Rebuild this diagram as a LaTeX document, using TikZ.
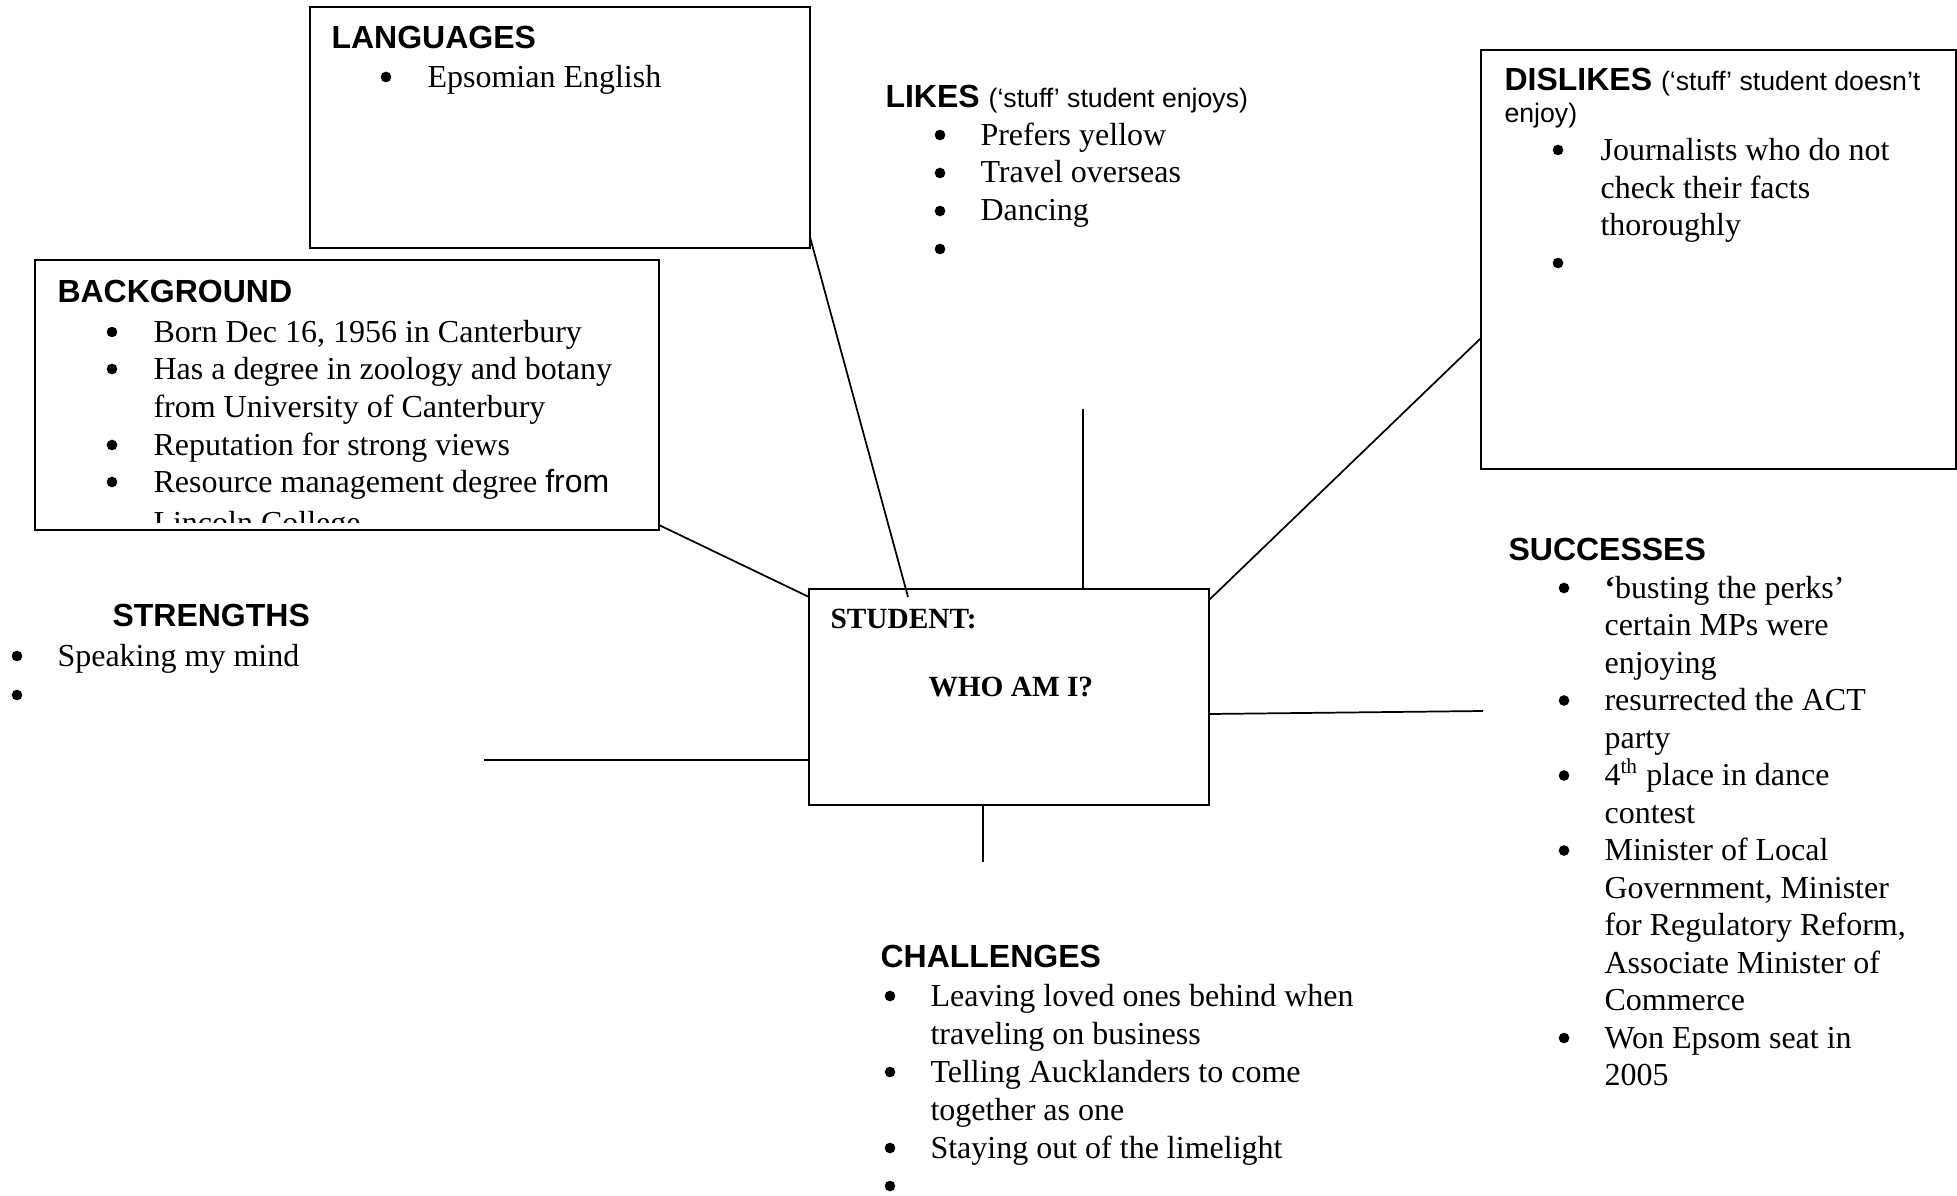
\documentclass[tikz,border=0pt]{standalone}
\usepackage{fontspec}
\setmainfont{Liberation Serif}
\newfontfamily\arialf{Liberation Sans}
\usetikzlibrary{fit,calc}
\tikzset{
  box/.style={draw, line width=0.85pt, inner sep=0pt},
  conn/.style={line width=0.65pt},
  txt/.style={inner sep=0pt, anchor=base west, font=\fontsize{12}{14}\selectfont},
  head/.style={inner sep=0pt, anchor=base west, font=\arialf\bfseries\fontsize{12}{14}\selectfont},
  sub/.style={inner sep=0pt, anchor=base west, font=\arialf\fontsize{10}{12}\selectfont},
  stud/.style={inner sep=0pt, anchor=base west, font=\bfseries\fontsize{11}{13}\selectfont},
  dot/.style={circle, fill, draw=none, inner sep=0pt, minimum size=4pt},
}
\newcommand\subt[1]{{\mdseries\fontsize{10}{12}\selectfont #1}}
\newcommand\BulLine[5]{\node[dot] (#1b) at (#2,{#4-10}) {}; \node[txt] (#1) at (#3,#4) {#5};}
\newcommand\BulOnly[3]{\node[dot] (#1) at (#2,{#3-10}) {};}
\newcommand\TxtLine[4]{\node[txt] (#1) at (#2,#3) {#4};}
\begin{document}
\begin{tikzpicture}[x=0.375pt, y=-0.375pt]
\useasboundingbox (0,0) rectangle (1957,1195);

% boxes
\node[box, fit={(310,7) (810,248)}] (lang) {};
\node[box, fit={(35,260) (659,530)}] (bg) {};
\node[box, fit={(1481,50) (1956,469)}] (dis) {};
\node[box, fit={(809,589) (1209,805)}] (stud) {};

% LANGUAGES
\node[head] (hLang) at (331,49) {LANGUAGES};
\BulLine{lang1}{386}{427}{87}{Epsomian English}

% BACKGROUND
\node[head] (hBg) at (57,302) {BACKGROUND};
\BulLine{bg1}{112}{153}{342}{Born Dec 16, 1956 in Canterbury}
\BulLine{bg2}{112}{153}{379}{Has a degree in zoology and botany}
\TxtLine{bg2c}{153}{417}{from University of Canterbury}
\BulLine{bg3}{112}{153}{455}{Reputation for strong views}
\BulLine{bg4}{112}{153}{492}{Resource management degree {\arialf from}}
\begin{scope}
  \clip (bg.north west) rectangle ($(bg.south east)+(0,-9)$);
  \TxtLine{bg4c}{153}{533}{Lincoln College}
\end{scope}

% LIKES
\node[head] (hLikes) at (885,107) {LIKES \subt{(‘stuff’ student enjoys)}};
\BulLine{lk1}{940}{980}{145}{Prefers yellow}
\BulLine{lk2}{940}{980}{183}{Travel overseas}
\BulLine{lk3}{940}{980}{221}{Dancing}
\BulOnly{lk4}{940}{259}

% DISLIKES
\node[head] (hDis) at (1504,91) {DISLIKES \subt{(‘stuff’ student doesn’t}};
\node[sub] (hDisS2) at (1504,123) {enjoy)};
\BulLine{ds1}{1558}{1600}{160}{Journalists who do not}
\TxtLine{ds1c}{1600}{198}{check their facts}
\TxtLine{ds1d}{1600}{235}{thoroughly}
\BulOnly{ds2}{1558}{273}

% STUDENT
\node[stud] (stT) at (830,628) {STUDENT:};
\node[stud] (stW) at (928,696) {WHO AM I?};

% SUCCESSES
\node[head] (hSuc) at (1508,560) {SUCCESSES};
\BulLine{sc1}{1564}{1604}{598}{\textbf{‘}busting the perks’}
\TxtLine{sc1c}{1604}{635.5}{certain MPs were}
\TxtLine{sc1d}{1604}{673}{enjoying}
\BulLine{sc2}{1564}{1604}{710.5}{resurrected the ACT}
\TxtLine{sc2c}{1604}{748}{party}
\BulLine{sc3}{1564}{1604}{785.5}{4\textsuperscript{th} place in dance}
\TxtLine{sc3c}{1604}{823}{contest}
\BulLine{sc4}{1564}{1604}{860.5}{Minister of Local}
\TxtLine{sc4c}{1604}{898}{Government, Minister}
\TxtLine{sc4d}{1604}{935.5}{for Regulatory Reform,}
\TxtLine{sc4e}{1604}{973}{Associate Minister of}
\TxtLine{sc4f}{1604}{1010.5}{Commerce}
\BulLine{sc5}{1564}{1604}{1048}{Won Epsom seat in}
\TxtLine{sc5c}{1604}{1085.5}{2005}

% STRENGTHS
\node[head] (hStr) at (112,626) {STRENGTHS};
\BulLine{st1}{17}{57}{666}{Speaking my mind}
\BulOnly{st2}{17}{705}

% CHALLENGES
\node[head] (hCh) at (880,967) {CHALLENGES};
\BulLine{ch1}{890}{930}{1006}{Leaving loved ones behind when}
\TxtLine{ch1c}{930}{1044}{traveling on business}
\BulLine{ch2}{890}{930}{1082}{Telling Aucklanders to come}
\TxtLine{ch2c}{930}{1120}{together as one}
\BulLine{ch3}{890}{930}{1158}{Staying out of the limelight}
\BulOnly{ch4}{890}{1196}

% connectors
\coordinate (l1a) at (810,237);
\coordinate (l1b) at (908,597);
\coordinate (l2a) at (659,525);
\coordinate (l2b) at (809,597);
\coordinate (l3a) at (1083,409);
\coordinate (l4a) at (1209,600);
\coordinate (l4b) at (1481,338);
\coordinate (l5a) at (1209,714);
\coordinate (l5b) at (1483,711);
\coordinate (l6a) at (484,760);
\coordinate (l7a) at (983,862);
\draw[conn] (l1a) -- (l1b);
\draw[conn] (l2a) -- (l2b);
\draw[conn] (l3a) -- (l3a |- stud.north);
\draw[conn] (l4a) -- (l4b);
\draw[conn] (l5a) -- (l5b);
\draw[conn] (l6a) -- (l6a -| stud.west);
\draw[conn] (l7a |- stud.south) -- (l7a);
\end{tikzpicture}
\end{document}
